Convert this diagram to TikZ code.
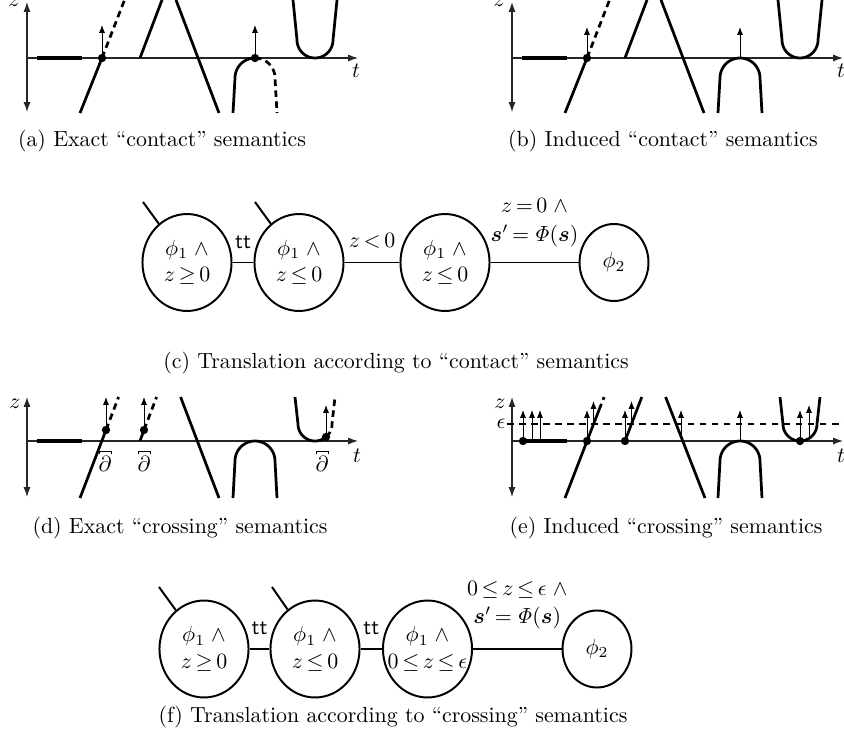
\documentclass[tikz,border=0pt]{standalone}
\usepackage{amsmath,amssymb,mathtools}
\usetikzlibrary{shapes.geometric,arrows.meta}
\begin{document}
\begin{tikzpicture}[x=0.457pt,y=-0.457pt,
  ax/.style={line width=0.5pt, black!85},
  axarr/.style={-{Latex[length=4.5pt,width=3.2pt]}},
  axboth/.style={{Latex[length=4.5pt,width=3.2pt]}-{Latex[length=4.5pt,width=3.2pt]}},
  curve/.style={line width=1.25pt, line join=round},
  dcurve/.style={line width=1.25pt, dash pattern=on 3pt off 2pt},
  thickseg/.style={line width=1.9pt},
  vec/.style={line width=0.45pt, -{Latex[length=3.6pt,width=2.8pt]}},
  st/.style={ellipse, draw, line width=0.9pt, inner sep=0pt, align=center, minimum width=40.7pt, minimum height=44.3pt},
  fst/.style={st, minimum width=31.5pt, minimum height=35.2pt},
  link/.style={line width=0.9pt},
  lab/.style={above=5pt, inner sep=1pt, align=center},
  captxt/.style={inner sep=0pt}
]
\useasboundingbox (0,0) rectangle (844,740);
\newcommand{\dbar}{$\overbracket[0.4pt][1.2pt]{\partial}$}

% ================= (a) =================
\draw[ax,axboth] (27,2) -- (27,112);
\draw[ax,axarr] (27,58) -- (358,58);
\node at (356,71) {$t$};
\node at (14,2) {$z$};
\draw[thickseg] (37,58) -- (82,58);
\draw[curve] (80,113) -- (102,58);
\draw[dcurve] (102,58) -- (124.5,0);
\draw[vec] (102,58) -- (102,25);
\draw[curve] (140,58) -- (162,0);
\draw[curve] (176,0) -- (219,113);
\draw[curve] (233,113) -- (235,78) -- plot[domain=180:270,samples=20,variable=\t] ({255+20*cos(\t)},{78+20*sin(\t)});
\draw[dcurve] plot[domain=270:360,samples=20,variable=\t] ({255+20*cos(\t)},{78+20*sin(\t)}) -- (277,113);
\draw[vec] (255,58) -- (255,25);
\draw[curve] (293,0) -- (297,40) -- plot[domain=180:0,samples=30,variable=\t] ({315+18*cos(\t)},{40+18*sin(\t)}) -- (337,0);
\fill (102,58) circle[radius=1.9pt];
\fill (255,58) circle[radius=1.9pt];
\node[captxt] at (162,141) {(a) Exact ``contact'' semantics};

% ================= (b) =================
\draw[ax,axboth] (512,2) -- (512,112);
\draw[ax,axarr] (512,58) -- (843,58);
\node at (841,71) {$t$};
\node at (499,2) {$z$};
\draw[thickseg] (522,58) -- (567,58);
\draw[curve] (565,113) -- (587,58);
\draw[dcurve] (587,58) -- (609.5,0);
\draw[vec] (587,58) -- (587,27);
\draw[curve] (625,58) -- (647,0);
\draw[curve] (661,0) -- (704,113);
\draw[curve] (718,113) -- (720,78) -- plot[domain=180:360,samples=30,variable=\t] ({740+20*cos(\t)},{78+20*sin(\t)}) -- (762,113);
\draw[vec] (740,58) -- (740,27);
\draw[curve] (778,0) -- (782,40) -- plot[domain=180:0,samples=30,variable=\t] ({800+18*cos(\t)},{40+18*sin(\t)}) -- (822,0);
\fill (587,58) circle[radius=1.9pt];
\node[captxt] at (663,141) {(b) Induced ``contact'' semantics};

% ================= (c) =================
\node[st] (c1) at (187,262.5) {$\phi_1\;\wedge$\\$z\,{\geq}\,0$};
\node[st] (c2) at (299,262.5) {$\phi_1\;\wedge$\\$z\,{\leq}\,0$};
\node[st] (c3) at (445,262.5) {$\phi_1\;\wedge$\\$z\,{\leq}\,0$};
\node[fst] (c4) at (614,262.5) {$\phi_2$};
\coordinate (ci1) at (143,202);
\coordinate (ci2) at (255,202);
\draw[link] (ci1) -- (c1);
\draw[link] (ci2) -- (c2);
\draw[link] (c1) -- node[lab] {\textsf{tt}} (c2);
\draw[link] (c2) -- node[lab] {$z\,{<}\,0$} (c3);
\draw[link] (c3) -- node[lab, above=0.5pt] {$z\,{=}\,0\;\wedge$\\[1.5pt]$\boldsymbol{s}'\,{=}\,\mathit{\Phi}(\boldsymbol{s})$} (c4);
\node[captxt] at (396,363) {(c) Translation according to ``contact'' semantics};

% ================= (d) =================
\draw[ax,axboth] (27,397) -- (27,497);
\draw[ax,axarr] (27,441) -- (358,441);
\node at (357,456) {$t$};
\node at (15,404) {$z$};
\draw[thickseg] (37,441) -- (82,441);
\draw[curve] (80,498) -- (106,430);
\draw[dcurve] (106,430) -- (118.6,397);
\draw[vec] (106,430) -- (106,397);
\draw[curve] (140,441) -- (144,430);
\draw[dcurve] (144,430) -- (156.6,397);
\draw[vec] (144,430) -- (144,397);
\draw[curve] (180.6,397) -- (219,498);
\draw[curve] (233,498) -- (235,461) -- plot[domain=180:360,samples=30,variable=\t] ({255+20*cos(\t)},{461+20*sin(\t)}) -- (277,498);
\draw[curve] (295,397) -- (298,424) -- plot[domain=180:49.7,samples=30,variable=\t] ({315+17*cos(\t)},{424+17*sin(\t)});
\draw[dcurve] plot[domain=49.7:0,samples=15,variable=\t] ({315+17*cos(\t)},{424+17*sin(\t)}) -- (335,397);
\draw[vec] (326,437) -- (326,405);
\fill (106,430) circle[radius=1.9pt];
\fill (144,430) circle[radius=1.9pt];
\fill (326,437) circle[radius=1.9pt];
\node at (105,461) {\dbar};
\node at (144,461) {\dbar};
\node at (322,461) {\dbar};
\node[captxt] at (180,528) {(d) Exact ``crossing'' semantics};

% ================= (e) =================
\draw[ax,axboth] (512,397) -- (512,497);
\draw[ax,axarr] (512,441) -- (843,441);
\node at (841,456) {$t$};
\node at (500,404) {$z$};
\draw[line width=0.5pt, dash pattern=on 3pt off 2.5pt] (507,424) -- (844,424);
\node at (501,424) {$\epsilon$};
\draw[thickseg] (522,441) -- (567,441);
\draw[vec] (523,441) -- (523,410);
\draw[vec] (532,441) -- (532,410);
\draw[vec] (540,441) -- (540,410);
\draw[curve] (565,498) -- (599,410);
\draw[dcurve] (599,410) -- (604.1,397);
\draw[vec] (587,441) -- (587,410);
\draw[vec] (593.5,424) -- (593.5,401);
\draw[curve] (625,441) -- (641.8,397);
\draw[vec] (625,441) -- (625,410);
\draw[vec] (631.5,424) -- (631.5,401);
\draw[curve] (665.6,397) -- (705,498);
\draw[vec] (681,441) -- (681,410);
\draw[curve] (718,498) -- (720,461) -- plot[domain=180:360,samples=30,variable=\t] ({740+20*cos(\t)},{461+20*sin(\t)}) -- (762,498);
\draw[vec] (740,441) -- (740,410);
\draw[curve] (780,397) -- (783,424) -- plot[domain=180:0,samples=30,variable=\t] ({800+17*cos(\t)},{424+17*sin(\t)}) -- (820,397);
\draw[vec] (800,441) -- (800,410);
\draw[vec] (809,438.4) -- (809,405);
\fill (523,441) circle[radius=1.9pt];
\fill (587,441) circle[radius=1.9pt];
\fill (625,441) circle[radius=1.9pt];
\fill (800,441) circle[radius=1.9pt];
\node[captxt] at (666,528) {(e) Induced ``crossing'' semantics};

% ================= (f) =================
\node[st] (f1) at (204,649) {$\phi_1\;\wedge$\\$z\,{\geq}\,0$};
\node[st] (f2) at (315,649) {$\phi_1\;\wedge$\\$z\,{\leq}\,0$};
\node[st, inner xsep=-8pt] (f3) at (427.5,649) {$\phi_1\;\wedge$\\$0\,{\leq}\,z\,{\leq}\,\epsilon$};
\node[fst] (f4) at (597,649) {$\phi_2$};
\coordinate (fi1) at (159,587);
\coordinate (fi2) at (272,587);
\draw[link] (fi1) -- (f1);
\draw[link] (fi2) -- (f2);
\draw[link] (f1) -- node[lab] {\textsf{tt}} (f2);
\draw[link] (f2) -- node[lab] {\textsf{tt}} (f3);
\draw[link] (f3) -- node[lab, above=2.6pt] {$0\,{\leq}\,z\,{\leq}\,\epsilon\;\wedge$\\[1pt]$\boldsymbol{s}'\,{=}\,\mathit{\Phi}(\boldsymbol{s})$} (f4);
\node[captxt] at (393,717) {(f) Translation according to ``crossing'' semantics};
\end{tikzpicture}
\end{document}
